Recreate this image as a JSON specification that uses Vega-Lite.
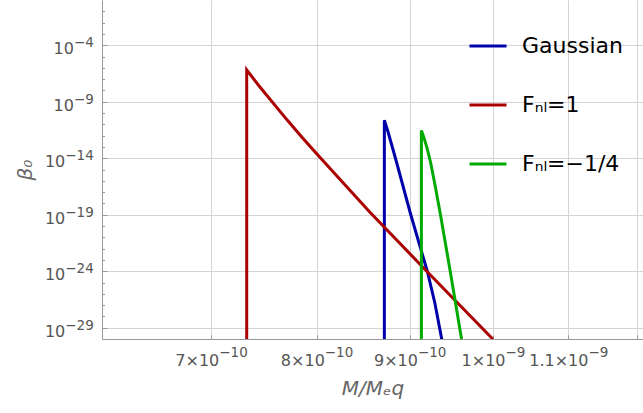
{
  "$schema": "https://vega.github.io/schema/vega-lite/v6.json",
  "width": 541,
  "height": 339,
  "autosize": "none",
  "padding": {"left": 102, "top": 0, "right": 0, "bottom": 74},
  "background": "white",
  "config": {"view": {"stroke": null}, "font": "DejaVu Sans"},
  "data": {
    "values": [
      {"s": "Gaussian", "i": 1, "x": 8.716e-10, "y": 3.6e-31},
      {"s": "Gaussian", "i": 2, "x": 8.716e-10, "y": 2.3e-11},
      {"s": "Gaussian", "i": 3, "x": 8.757e-10, "y": 2.09e-12},
      {"s": "Gaussian", "i": 4, "x": 8.801e-10, "y": 1.2e-13},
      {"s": "Gaussian", "i": 5, "x": 8.857e-10, "y": 3.07e-15},
      {"s": "Gaussian", "i": 6, "x": 9.01e-10, "y": 1.15e-19},
      {"s": "Gaussian", "i": 7, "x": 9.205e-10, "y": 8.51e-25},
      {"s": "Gaussian", "i": 8, "x": 9.291e-10, "y": 1.55e-27},
      {"s": "Gaussian", "i": 9, "x": 9.372e-10, "y": 1e-30},
      {"s": "Gaussian", "i": 10, "x": 9.381e-10, "y": 3.6e-31},
      {"s": "Fₙₗ=1", "i": 1, "x": 7.323e-10, "y": 3.6e-31},
      {"s": "Fₙₗ=1", "i": 2, "x": 7.323e-10, "y": 6.46e-7},
      {"s": "Fₙₗ=1", "i": 3, "x": 7.435e-10, "y": 2.72e-8},
      {"s": "Fₙₗ=1", "i": 4, "x": 7.704e-10, "y": 2.61e-11},
      {"s": "Fₙₗ=1", "i": 5, "x": 7.851e-10, "y": 7.67e-13},
      {"s": "Fₙₗ=1", "i": 6, "x": 8.001e-10, "y": 2.45e-14},
      {"s": "Fₙₗ=1", "i": 7, "x": 8.206e-10, "y": 2.77e-16},
      {"s": "Fₙₗ=1", "i": 8, "x": 8.556e-10, "y": 1.73e-19},
      {"s": "Fₙₗ=1", "i": 9, "x": 9.196e-10, "y": 1e-24},
      {"s": "Fₙₗ=1", "i": 10, "x": 9.985e-10, "y": 1.23e-30},
      {"s": "Fₙₗ=1", "i": 11, "x": 1.0001e-9, "y": 6.6e-31},
      {"s": "Fₙₗ=−1/4", "i": 1, "x": 9.134e-10, "y": 3.6e-31},
      {"s": "Fₙₗ=−1/4", "i": 2, "x": 9.134e-10, "y": 2.82e-12},
      {"s": "Fₙₗ=−1/4", "i": 3, "x": 9.165e-10, "y": 6.1e-13},
      {"s": "Fₙₗ=−1/4", "i": 4, "x": 9.2e-10, "y": 7.9e-14},
      {"s": "Fₙₗ=−1/4", "i": 5, "x": 9.24e-10, "y": 4.6e-15},
      {"s": "Fₙₗ=−1/4", "i": 6, "x": 9.293e-10, "y": 4.3e-17},
      {"s": "Fₙₗ=−1/4", "i": 7, "x": 9.358e-10, "y": 9.33e-20},
      {"s": "Fₙₗ=−1/4", "i": 8, "x": 9.475e-10, "y": 8.51e-25},
      {"s": "Fₙₗ=−1/4", "i": 9, "x": 9.608e-10, "y": 1.23e-30},
      {"s": "Fₙₗ=−1/4", "i": 10, "x": 9.616e-10, "y": 4.5e-31}
    ]
  },
  "resolve": {"axis": {"x": "independent", "y": "independent"}},
  "layer": [
    {
      "mark": {"type": "line", "strokeWidth": 3, "clip": true},
      "encoding": {
        "x": {
          "field": "x",
          "type": "quantitative",
          "scale": {"type": "log", "domain": [6.098e-10, 1.209e-9], "nice": false},
          "axis": {
            "orient": "bottom",
            "values": [7e-10, 8e-10, 9e-10, 1e-9, 1.1e-9, 1.2e-9],
            "labels": false,
            "tickSize": -4,
            "tickColor": "#999999",
            "domainColor": "#999999",
            "gridColor": "#d4d4d4",
            "title": null
          }
        },
        "y": {
          "field": "y",
          "type": "quantitative",
          "scale": {"type": "log", "domain": [1e-30, 1], "nice": false},
          "axis": {
            "orient": "left",
            "values": [1e-29, 1e-28, 1e-27, 1e-26, 1e-25, 1e-24, 1e-23, 1e-22, 1e-21, 1e-20, 1e-19, 1e-18, 1e-17, 1e-16, 1e-15, 1e-14, 1e-13, 1e-12, 1e-11, 1e-10, 1e-9, 1e-8, 1e-7, 1e-6, 1e-5, 1e-4, 1e-3, 1e-2, 1e-1],
            "labels": false,
            "tickSize": {"condition": {"test": "abs((round(log(datum.value)/LN10)+4)%5)==0", "value": -5}, "value": -2.5},
            "tickColor": "#999999",
            "domainColor": "#999999",
            "gridColor": "#d4d4d4",
            "gridOpacity": {"condition": {"test": "abs((round(log(datum.value)/LN10)+4)%5)==0", "value": 1}, "value": 0},
            "title": null
          }
        },
        "color": {
          "field": "s",
          "type": "nominal",
          "scale": {"domain": ["Gaussian", "Fₙₗ=1", "Fₙₗ=−1/4"], "range": ["#0000aa", "#aa0000", "#00aa00"]},
          "legend": {
            "orient": "none",
            "legendX": 366,
            "legendY": 26,
            "title": null,
            "symbolType": "stroke",
            "symbolStrokeWidth": 3,
            "symbolSize": 1369,
            "labelFontSize": 22,
            "labelColor": "#000000",
            "labelFont": "DejaVu Sans",
            "labelOffset": 14,
            "rowPadding": 28,
            "padding": 0
          }
        },
        "order": {"field": "i"}
      }
    },
    {
      "mark": {"type": "line", "strokeWidth": 3, "clip": true, "opacity": 0},
      "encoding": {
        "x": {
          "field": "x",
          "type": "quantitative",
          "axis": {
            "orient": "bottom",
            "values": [7e-10, 8e-10, 9e-10, 1e-9, 1.1e-9, 1.2e-9],
            "labelExpr": "round(datum.value*1e11)==70?'7×10':round(datum.value*1e11)==80?'8×10':round(datum.value*1e11)==90?'9×10':round(datum.value*1e11)==100?'1×10':round(datum.value*1e11)==110?'1.1×10':''",
            "labelFontSize": 16,
            "labelColor": "#555555",
            "labelAlign": "center",
            "labelBaseline": "alphabetic",
            "labelPadding": 26.7,
            "labelOffset": {"condition": {"test": "datum.value < 9.5e-10", "value": -14.25}, "value": -9.95},
            "labelFlush": false,
            "labelOverlap": false,
            "ticks": false,
            "domain": false,
            "grid": false,
            "title": "M/Mₑq",
            "titleFontStyle": "italic",
            "titleFontWeight": "normal",
            "titleFontSize": 20,
            "titleColor": "#666666",
            "titlePadding": 10
          }
        },
        "y": {
          "field": "y",
          "type": "quantitative",
          "axis": {
            "orient": "left",
            "values": [1e-29, 1e-24, 1e-19, 1e-14, 1e-9, 1e-4],
            "labelExpr": "'10'",
            "labelFontSize": 16,
            "labelColor": "#555555",
            "labelAlign": "right",
            "labelBaseline": "alphabetic",
            "labelOffset": 8.3,
            "labelPadding": {"condition": {"test": "datum.value > 1e-10", "value": 28.6}, "value": 37.2},
            "labelFlush": false,
            "labelOverlap": false,
            "ticks": false,
            "domain": false,
            "grid": false,
            "title": "β₀",
            "titleFontStyle": "italic",
            "titleFontWeight": "normal",
            "titleFontSize": 20,
            "titleColor": "#666666",
            "titlePadding": 9
          }
        },
        "detail": {"field": "s"},
        "order": {"field": "i"}
      }
    },
    {
      "mark": {"type": "line", "strokeWidth": 3, "clip": true, "opacity": 0},
      "encoding": {
        "x": {
          "field": "x",
          "type": "quantitative",
          "axis": {
            "orient": "bottom",
            "values": [7e-10, 8e-10, 9e-10, 1e-9, 1.1e-9, 1.2e-9],
            "labelExpr": "round(datum.value*1e11)<95?'−10':round(datum.value*1e11)<115?'−9':''",
            "labelFontSize": 13.5,
            "labelColor": "#555555",
            "labelAlign": "center",
            "labelBaseline": "alphabetic",
            "labelPadding": 17.4,
            "labelOffset": {"condition": {"test": "datum.value > 1.05e-9", "value": 29.6}, "value": 21.95},
            "labelFlush": false,
            "labelOverlap": false,
            "ticks": false,
            "domain": false,
            "grid": false,
            "title": null
          }
        },
        "y": {
          "field": "y",
          "type": "quantitative",
          "axis": {
            "orient": "left",
            "values": [1e-29, 1e-24, 1e-19, 1e-14, 1e-9, 1e-4],
            "labelExpr": "'−' + format(-round(log(datum.value)/LN10), 'd')",
            "labelFontSize": 13.5,
            "labelColor": "#555555",
            "labelAlign": "right",
            "labelBaseline": "alphabetic",
            "labelOffset": 1.7,
            "labelPadding": 8.7,
            "labelFlush": false,
            "labelOverlap": false,
            "ticks": false,
            "domain": false,
            "grid": false,
            "title": null
          }
        },
        "detail": {"field": "s"},
        "order": {"field": "i"}
      }
    }
  ]
}
